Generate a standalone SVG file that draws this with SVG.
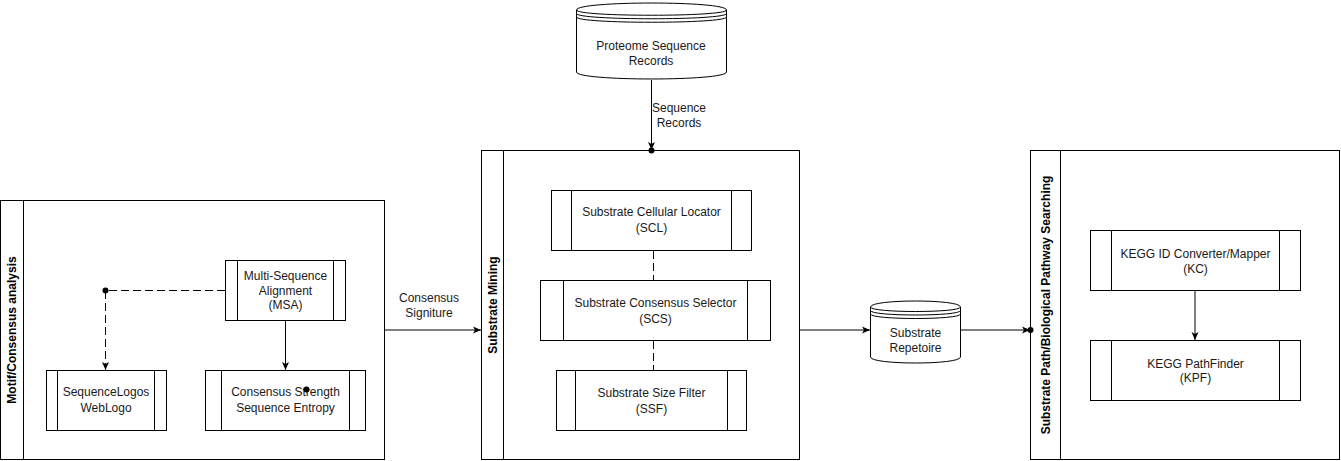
<svg xmlns="http://www.w3.org/2000/svg" width="1341" height="461" viewBox="0 0 1341 461">
<style>
.pool{fill:#fff;stroke:#000;stroke-width:1}
.box{fill:#fff;stroke:#000;stroke-width:1}
.ln{fill:none;stroke:#000;stroke-width:1}
.t{font-family:"Liberation Sans",Arial,sans-serif;font-size:12px;fill:#1a1a1a;text-anchor:middle}
.h{font-family:"Liberation Sans",Arial,sans-serif;font-size:12px;font-weight:bold;fill:#000;text-anchor:middle}
.e{fill:none;stroke:#000;stroke-width:1}
.dash{stroke-dasharray:8 4}
</style>
<defs>
<marker id="arr" markerWidth="10" markerHeight="8" refX="8" refY="4" orient="auto" markerUnits="userSpaceOnUse">
<path d="M0,0.5 L8,4 L0,7.5 L2,4 Z" fill="#000"/>
</marker>
</defs>
<rect width="1341" height="461" fill="#fff"/>

<g id="pool-motif">
<rect class="pool" x="0.5" y="200.5" width="384" height="259"/>
<line class="ln" x1="23.5" y1="200.5" x2="23.5" y2="459.5"/>
<text class="h" transform="translate(16,330) rotate(-90)">Motif/Consensus analysis</text>
</g>
<g id="pool-mining">
<rect class="pool" x="481.5" y="150.5" width="318" height="309"/>
<line class="ln" x1="503.5" y1="150.5" x2="503.5" y2="459.5"/>
<text class="h" transform="translate(496.5,305) rotate(-90)">Substrate Mining</text>
</g>
<g id="pool-pathway">
<rect class="pool" x="1030.5" y="150.5" width="309" height="309"/>
<line class="ln" x1="1060.5" y1="150.5" x2="1060.5" y2="459.5"/>
<text class="h" transform="translate(1050,305) rotate(-90)">Substrate Path/Biological Pathway Searching</text>
</g>

<g id="proteome">
<path class="box" d="M576.5,10 C576.5,0.7 726.5,0.7 726.5,10 L726.5,72 C726.5,81.3 576.5,81.3 576.5,72 Z"/>
<path class="e" d="M576.5,10 C576.5,17 726.5,17 726.5,10 M576.5,13.5 C576.5,20.5 726.5,20.5 726.5,13.5 M576.5,17 C576.5,24 726.5,24 726.5,17"/>
<text class="t" x="651" y="49.5">Proteome Sequence</text>
<text class="t" x="651" y="64.5">Records</text>
</g>

<g id="msa">
<rect class="box" x="225.5" y="260.5" width="120" height="60"/>
<line class="ln" x1="237.5" y1="260.5" x2="237.5" y2="320.5"/>
<line class="ln" x1="333.5" y1="260.5" x2="333.5" y2="320.5"/>
<text class="t" x="285.5" y="280">Multi-Sequence</text>
<text class="t" x="285.5" y="294.5">Alignment</text>
<text class="t" x="285.5" y="309">(MSA)</text>
</g>
<g id="seqlogos">
<rect class="box" x="46.5" y="370.5" width="120" height="60"/>
<line class="ln" x1="57.5" y1="370.5" x2="57.5" y2="430.5"/>
<line class="ln" x1="154.5" y1="370.5" x2="154.5" y2="430.5"/>
<text class="t" x="106" y="396">SequenceLogos</text>
<text class="t" x="106" y="411.5">WebLogo</text>
</g>
<g id="consensus-strength">
<rect class="box" x="205.5" y="370.5" width="160" height="60"/>
<line class="ln" x1="221.5" y1="370.5" x2="221.5" y2="430.5"/>
<line class="ln" x1="349.5" y1="370.5" x2="349.5" y2="430.5"/>
<text class="t" x="285.5" y="396">Consensus Strength</text>
<text class="t" x="285.5" y="411.5">Sequence Entropy</text>
</g>

<g id="scl">
<rect class="box" x="551.5" y="190.5" width="200" height="60"/>
<line class="ln" x1="571.5" y1="190.5" x2="571.5" y2="250.5"/>
<line class="ln" x1="731.5" y1="190.5" x2="731.5" y2="250.5"/>
<text class="t" x="651.5" y="216">Substrate Cellular Locator</text>
<text class="t" x="651.5" y="232">(SCL)</text>
</g>
<g id="scs">
<rect class="box" x="540.5" y="280.5" width="230" height="60"/>
<line class="ln" x1="563.5" y1="280.5" x2="563.5" y2="340.5"/>
<line class="ln" x1="747.5" y1="280.5" x2="747.5" y2="340.5"/>
<text class="t" x="655.5" y="306.5">Substrate Consensus Selector</text>
<text class="t" x="655.5" y="322.5">(SCS)</text>
</g>
<g id="ssf">
<rect class="box" x="556.5" y="370.5" width="190" height="60"/>
<line class="ln" x1="575.5" y1="370.5" x2="575.5" y2="430.5"/>
<line class="ln" x1="727.5" y1="370.5" x2="727.5" y2="430.5"/>
<text class="t" x="651.5" y="396.5">Substrate Size Filter</text>
<text class="t" x="651.5" y="412.5">(SSF)</text>
</g>

<g id="repetoire">
<path class="box" d="M870.5,307 C870.5,299 960.5,299 960.5,307 L960.5,357 C960.5,365 870.5,365 870.5,357 Z"/>
<path class="e" d="M870.5,307 C870.5,313 960.5,313 960.5,307 M870.5,310.5 C870.5,316.5 960.5,316.5 960.5,310.5 M870.5,314 C870.5,320 960.5,320 960.5,314"/>
<text class="t" x="915.5" y="337">Substrate</text>
<text class="t" x="915.5" y="351.5">Repetoire</text>
</g>

<g id="kc">
<rect class="box" x="1090.5" y="230.5" width="210" height="60"/>
<line class="ln" x1="1111.5" y1="230.5" x2="1111.5" y2="290.5"/>
<line class="ln" x1="1279.5" y1="230.5" x2="1279.5" y2="290.5"/>
<text class="t" x="1195.5" y="257.5">KEGG ID Converter/Mapper</text>
<text class="t" x="1195.5" y="272.5">(KC)</text>
</g>
<g id="kpf">
<rect class="box" x="1090.5" y="340.5" width="210" height="60"/>
<line class="ln" x1="1111.5" y1="340.5" x2="1111.5" y2="400.5"/>
<line class="ln" x1="1279.5" y1="340.5" x2="1279.5" y2="400.5"/>
<text class="t" x="1195.5" y="367.5">KEGG PathFinder</text>
<text class="t" x="1195.5" y="382">(KPF)</text>
</g>

<g id="connectors">
<line class="ln" x1="651.5" y1="80" x2="651.5" y2="150" marker-end="url(#arr)"/>
<circle cx="651.5" cy="150.5" r="3" fill="#000"/>
<text class="t" x="679" y="112">Sequence</text>
<text class="t" x="679" y="127">Records</text>

<line class="ln" x1="385" y1="330" x2="481" y2="330" marker-end="url(#arr)"/>
<text class="t" x="429" y="302">Consensus</text>
<text class="t" x="429" y="316.5">Signiture</text>

<line class="ln" x1="800" y1="330" x2="870" y2="330" marker-end="url(#arr)"/>
<line class="ln" x1="961" y1="330" x2="1030" y2="330" marker-end="url(#arr)"/>
<circle cx="1030.5" cy="330" r="3" fill="#000"/>

<line class="ln dash" x1="653.5" y1="251" x2="653.5" y2="280"/>
<line class="ln dash" x1="653.5" y1="341" x2="653.5" y2="370"/>

<polyline class="ln dash" points="225,290.5 105.5,290.5 105.5,370" marker-end="url(#arr)"/>
<circle cx="105.5" cy="290.5" r="3" fill="#000"/>
<line class="ln" x1="285.5" y1="321" x2="285.5" y2="370" marker-end="url(#arr)"/>
<circle cx="306.5" cy="389.5" r="3" fill="#000"/>

<line class="ln" x1="1195" y1="291" x2="1195" y2="340" marker-end="url(#arr)"/>
</g>
</svg>
